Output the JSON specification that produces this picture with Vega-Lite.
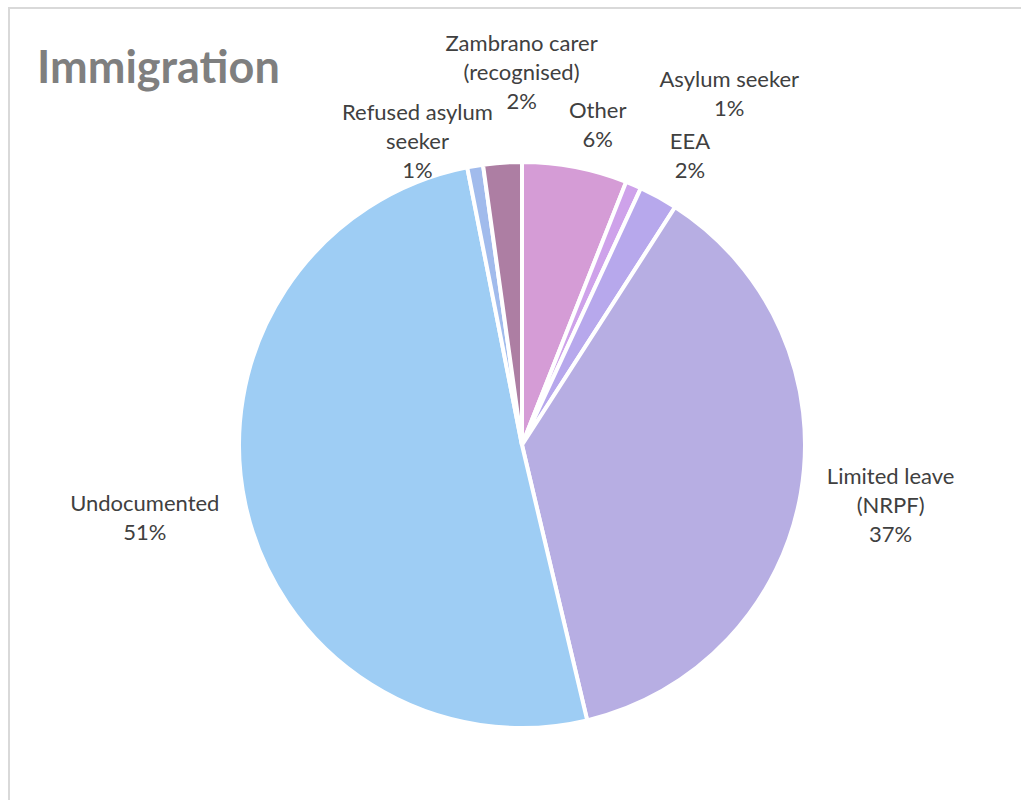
{
  "$schema": "https://vega.github.io/schema/vega-lite/v6.json",
  "width": 1026,
  "height": 874,
  "autosize": {"type": "none"},
  "padding": {"left": 9, "top": 8, "right": -14, "bottom": -82},
  "background": "white",
  "view": {"stroke": "#d9d9d9", "strokeWidth": 2, "fill": "white"},
  "config": {"view": {"stroke": "#d9d9d9", "strokeWidth": 2}, "font": "Lato"},
  "title": {"text": "Immigration", "anchor": "start", "frame": "group", "orient": "top", "baseline": "alphabetic", "offset": -120, "dx": 28, "font": "Lato", "fontSize": 45, "fontWeight": "bold", "color": "#7f7f7f"},
  "data": {"values": [
    {"cat": "Other", "v": 0.060, "label": "Other\n6%"},
    {"cat": "Asylum seeker", "v": 0.009, "label": "Asylum seeker\n1%"},
    {"cat": "EEA", "v": 0.022, "label": "EEA\n2%"},
    {"cat": "Limited leave (NRPF)", "v": 0.372, "label": "Limited leave\n(NRPF)\n37%"},
    {"cat": "Undocumented", "v": 0.506, "label": "Undocumented\n51%"},
    {"cat": "Refused asylum seeker", "v": 0.009, "label": "Refused asylum\nseeker\n1%"},
    {"cat": "Zambrano carer (recognised)", "v": 0.022, "label": "Zambrano carer\n(recognised)\n2%"}
  ]},
  "transform": [
    {"stack": "v", "groupby": [], "as": ["t0", "t1"]},
    {"calculate": "(datum.t0 + datum.t1) / 2", "as": "tm"}
  ],
  "layer": [
    {
      "mark": {"type": "arc", "radius": 283, "stroke": "white", "strokeWidth": 4},
      "encoding": {
        "theta": {"field": "t0", "type": "quantitative", "scale": {"domain": [0, 1], "range": [0, 6.283185307179586]}},
        "theta2": {"field": "t1"},
        "color": {"field": "cat", "type": "nominal", "legend": null, "scale": {
          "domain": ["Other", "Asylum seeker", "EEA", "Limited leave (NRPF)", "Undocumented", "Refused asylum seeker", "Zambrano carer (recognised)"],
          "range": ["#d59cd6", "#cea2ea", "#b7a8ec", "#b7aee3", "#9ecdf4", "#a1bbec", "#ad7ea3"]}}
      }
    },
    {
      "transform": [{"filter": "datum.cat === 'Other'"}],
      "mark": {"type": "text", "radius": 324, "dx": 15, "dy": -16, "fontSize": 22, "lineHeight": 29, "lineBreak": "\n", "color": "#404040", "align": "center", "baseline": "middle"},
      "encoding": {"theta": {"field": "tm", "type": "quantitative"}, "text": {"field": "label"}}
    },
    {
      "transform": [{"filter": "datum.cat === 'Asylum seeker'"}],
      "mark": {"type": "text", "radius": 404, "dx": 48, "dy": 6, "fontSize": 22, "lineHeight": 29, "lineBreak": "\n", "color": "#404040", "align": "center", "baseline": "middle"},
      "encoding": {"theta": {"field": "tm", "type": "quantitative"}, "text": {"field": "label"}}
    },
    {
      "transform": [{"filter": "datum.cat === 'EEA'"}],
      "mark": {"type": "text", "radius": 330, "dx": 9, "dy": -14, "fontSize": 22, "lineHeight": 29, "lineBreak": "\n", "color": "#404040", "align": "center", "baseline": "middle"},
      "encoding": {"theta": {"field": "tm", "type": "quantitative"}, "text": {"field": "label"}}
    },
    {
      "transform": [{"filter": "datum.cat === 'Limited leave (NRPF)'"}],
      "mark": {"type": "text", "radius": 374, "dx": 0, "dy": -31, "fontSize": 22, "lineHeight": 29, "lineBreak": "\n", "color": "#404040", "align": "center", "baseline": "middle"},
      "encoding": {"theta": {"field": "tm", "type": "quantitative"}, "text": {"field": "label"}}
    },
    {
      "transform": [{"filter": "datum.cat === 'Undocumented'"}],
      "mark": {"type": "text", "radius": 386, "dx": 0, "dy": -23, "fontSize": 22, "lineHeight": 29, "lineBreak": "\n", "color": "#404040", "align": "center", "baseline": "middle"},
      "encoding": {"theta": {"field": "tm", "type": "quantitative"}, "text": {"field": "label"}}
    },
    {
      "transform": [{"filter": "datum.cat === 'Refused asylum seeker'"}],
      "mark": {"type": "text", "radius": 317, "dx": -52, "dy": -19, "fontSize": 22, "lineHeight": 29, "lineBreak": "\n", "color": "#404040", "align": "center", "baseline": "middle"},
      "encoding": {"theta": {"field": "tm", "type": "quantitative"}, "text": {"field": "label"}}
    },
    {
      "transform": [{"filter": "datum.cat === 'Zambrano carer (recognised)'"}],
      "mark": {"type": "text", "radius": 368, "dx": 25, "dy": -34, "fontSize": 22, "lineHeight": 29, "lineBreak": "\n", "color": "#404040", "align": "center", "baseline": "middle"},
      "encoding": {"theta": {"field": "tm", "type": "quantitative"}, "text": {"field": "label"}}
    }
  ]
}
